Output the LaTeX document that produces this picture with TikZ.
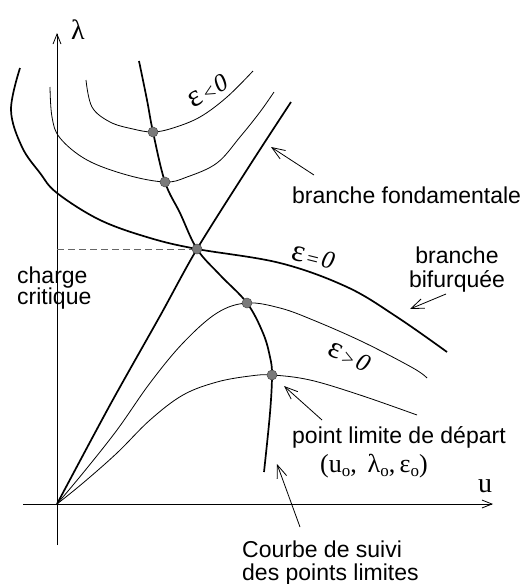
\documentclass[tikz,border=0pt]{standalone}
\usepackage{fontspec}
\setmainfont{Liberation Sans}
\newfontfamily\serf{Liberation Serif}
\usetikzlibrary{arrows.meta}
\newcommand\subo{\raisebox{-4pt}{\fontsize{17}{17}\selectfont o}}
\newcommand\epsrel[1]{{\fontsize{31}{31}\selectfont ε}\kern3pt\raisebox{-1pt}{\fontsize{21}{21}\selectfont #1}\kern3pt{\fontsize{25}{25}\selectfont\textit{0}}}
\begin{document}
\begin{tikzpicture}[x=1pt,y=-1pt,
  thickc/.style={line width=1.7pt,line join=round},
  thinc/.style={line width=0.8pt},
  axis/.style={line width=0.8pt,-{Straight Barb[length=10pt,width=8pt,line width=0.8pt]}},
  ptr/.style={line width=0.8pt,-{Straight Barb[length=13pt,width=10pt,line width=0.8pt]}},
  lpdot/.style={circle,fill=black!52,draw=black!70,line width=0.5pt,inner sep=0pt,minimum size=10pt},
  lbl/.style={font=\fontsize{23}{24}\selectfont,inner sep=0pt},
  epslbl/.style={font=\serf,inner sep=0pt},
  crit/.style={dashed,dash pattern=on 7pt off 4pt,draw=black!60,line width=0.8pt}
]
\useasboundingbox (0,0) rectangle (525,584);

% axes
\coordinate (O) at (57,504);
\coordinate (ybot) at (57,545);
\coordinate (ytop) at (57,33);
\coordinate (xleft) at (23,504);
\coordinate (xright) at (493,504);
\draw[axis] (ybot) -- (ytop);
\draw[axis] (xleft) -- (xright);
\node[epslbl,font=\serf\fontsize{28}{28}\selectfont] (lam) at (78,30) {λ};
\node[epslbl,font=\serf\fontsize{28}{28}\selectfont,anchor=base] (uu) at (485,492) {u};

% critical load dashed line
\coordinate (B) at (197,249);
\coordinate (Bax) at (57,249);
\draw[crit] (Bax) -- (B);

% epsilon < 0 curves
\draw[thinc] plot[smooth,tension=0.6] coordinates {(86,80) (92,107) (110,122) (133,129) (153,132) (173,128) (200,117) (227,97) (253,71)};
\draw[thinc] plot[smooth,tension=0.6] coordinates {(50,87) (52,117) (60,138) (87,160) (127,175) (165,182) (187,177) (217,163) (240,137) (260,112) (274,92)};

% epsilon > 0 curves
\draw[thinc] plot[smooth,tension=0.6] coordinates {(57,504) (83,473) (117,430) (150,383) (183,343) (217,313) (247,303) (280,308) (313,320) (363,342) (413,368) (427,378)};
\draw[thinc] plot[smooth,tension=0.6] coordinates {(57,504) (83,483) (117,453) (150,420) (183,395) (217,382) (250,376) (272,375) (310,380) (360,395) (417,415)};

% fundamental branch
\draw[thickc] plot[smooth,tension=0.5] coordinates {(57,504) (110,405) (160,316) (197,249) (250,165) (291,102)};

% bifurcated branch (epsilon = 0)
\draw[thickc] plot[smooth,tension=0.6] coordinates {(20,68) (11,110) (22,147) (40,173) (57,193) (100,220) (150,238) (197,249) (280,263) (347,287) (397,317) (447,352)};

% curve of limit points
\draw[thickc] plot[smooth,tension=0.6] coordinates {(139,61) (147,100) (153,132) (165,182) (180,213) (197,249) (220,275) (247,303) (263,333) (270,357) (272,375) (270,413) (264,472)};

% limit points
\node[lpdot] (p1) at (153,132) {};
\node[lpdot] (p2) at (165,182) {};
\node[lpdot] (pb) at (197,249) {};
\node[lpdot] (p3) at (247,303) {};
\node[lpdot] (p4) at (272,375) {};

% epsilon labels
\node[epslbl,rotate=30] (em) at (208,91) {\epsrel{<}};
\node[epslbl,rotate=-14] (ez) at (313,257) {\epsrel{=}};
\node[epslbl,rotate=-25] (ep) at (349,357) {\epsrel{>}};

% text labels
\node[lbl,anchor=base west] (fond) at (292,203) {branche fondamentale};
\node[lbl,anchor=base] (bif1) at (457,263) {branche};
\node[lbl,anchor=base] (bif2) at (457,287) {bifurquée};
\node[lbl,anchor=base west] (ch1) at (17,283) {charge};
\node[lbl,anchor=base west] (ch2) at (17,304) {critique};
\node[lbl,anchor=base west] (plim) at (292,443) {point limite de départ};
\node[epslbl,font=\serf\fontsize{26}{26}\selectfont,anchor=base] (coord) at (374,472) {(u\subo,\, λ\subo,\,ε\subo)};
\node[lbl,anchor=base west] (cs1) at (242,557) {Courbe de suivi};
\node[lbl,anchor=base west] (cs2) at (242,580) {des points limites};

% pointers
\coordinate (fa) at (314,175); \coordinate (fb) at (271,147);
\coordinate (ba) at (446,294); \coordinate (bb) at (410,309);
\coordinate (la) at (322,420); \coordinate (lb) at (284,386);
\coordinate (ca) at (300,527); \coordinate (cb) at (277,464);
\draw[ptr] (fa) -- (fb);
\draw[ptr] (ba) -- (bb);
\draw[ptr] (la) -- (lb);
\draw[ptr] (ca) -- (cb);
\end{tikzpicture}
\end{document}
